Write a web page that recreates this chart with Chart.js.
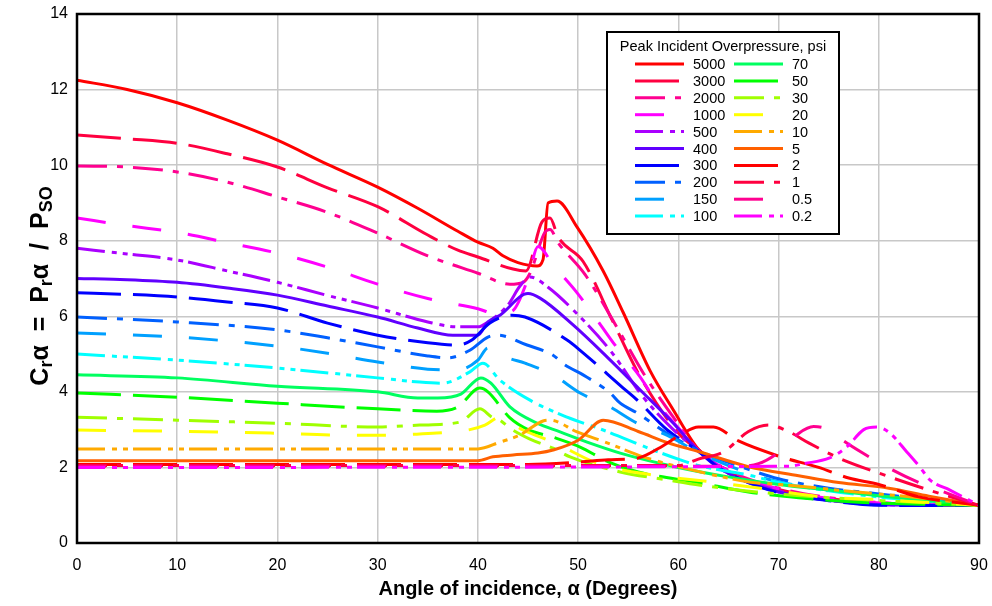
<!DOCTYPE html>
<html lang="en">
<head>
<meta charset="UTF-8">
<title>Reflection coefficient vs angle of incidence</title>
<style>
  body { margin: 0; background: #fff; }
  #wrap { width: 992px; height: 606px; }
</style>
</head>
<body>
<div id="wrap"><canvas id="chart" width="992" height="606"></canvas></div>
<script src="https://cdn.jsdelivr.net/npm/chart.js@4"></script>
<script>
// peak incident overpressure (psi), one curve each
const pressures = ['5000', '3000', '2000', '1000', '500', '400', '300', '200', '150', '100',
                   '70', '50', '30', '20', '10', '5', '2', '1', '0.5', '0.2'];

// [angle (deg), Cr alpha]
const s5000 = [[0,12.25],[5,12.0],[10,11.65],[15,11.19],[20,10.66],[25,10.02],[30,9.42],[34,8.86],[38,8.25],[40,7.96],[41.5,7.8],[42.5,7.6],[44,7.42],[45.9,7.33],[46.5,7.5],[47,9.0],[47.9,9.05],[49.9,8.36],[52.5,7.2],[54.5,6.1],[57.2,4.55],[59.5,3.52],[62,2.48],[65,1.85],[70,1.38],[75,1.15],[80,1.05],[85,1.0],[90,1.0]];
const s3000 = [[0,10.8],[5,10.7],[10,10.58],[15,10.3],[20,9.95],[25,9.4],[30,8.9],[35,8.15],[38,7.75],[40,7.57],[43.5,7.25],[44.8,7.2],[46.4,8.5],[47.2,8.6],[48,8.1],[50.5,7.45],[53.4,5.9],[56.2,4.4],[60.2,2.85],[62,2.47],[65,1.9],[70,1.42],[75,1.18],[80,1.06],[85,1.01],[90,1.0]];
const s2000 = [[0,9.98],[5,9.95],[10,9.82],[15,9.55],[20,9.16],[25,8.75],[30,8.2],[35,7.6],[40,7.14],[43.2,6.85],[44.5,6.9],[45.2,7.14],[46.7,8.23],[47.2,8.3],[48,7.95],[50.7,7.1],[54.2,5.56],[56.5,4.5],[59.5,3.33],[62,2.46],[65,1.92],[70,1.45],[75,1.2],[80,1.07],[85,1.02],[90,1.0]];
const s1000 = [[0,8.6],[5,8.4],[10,8.22],[15,7.95],[20,7.67],[25,7.3],[30,6.85],[35,6.47],[40,6.2],[42,6.05],[43.5,6.15],[45,7.0],[46,7.85],[47.5,7.36],[49.9,6.62],[51.9,5.9],[53.9,5.16],[56.2,4.39],[57.9,3.7],[60.2,2.99],[62,2.46],[65,1.9],[70,1.43],[75,1.18],[80,1.06],[85,1.01],[90,1.0]];
const s500 = [[0,7.8],[5,7.65],[10,7.49],[15,7.2],[20,6.9],[25,6.55],[30,6.22],[35,5.85],[38,5.72],[40,5.72],[41,5.85],[43,6.3],[44.2,6.8],[45.2,7.04],[47,6.77],[49.5,6.17],[53.2,5.1],[56.5,3.86],[59.5,3.0],[62,2.45],[65,1.85],[70,1.38],[75,1.13],[80,1.02],[85,1.0],[90,1.0]];
const s400 = [[0,7.0],[5,6.97],[10,6.9],[15,6.75],[20,6.56],[25,6.27],[30,5.98],[34,5.69],[37.5,5.5],[40,5.5],[41,5.85],[42.2,6.03],[45,6.6],[46.2,6.48],[49.5,5.77],[52.9,4.92],[56.2,4.05],[59.5,3.17],[62,2.44],[64,2.0],[67,1.6],[70,1.35],[75,1.13],[80,1.01],[85,1.0],[90,1.0]];
const s300 = [[0,6.62],[5,6.58],[10,6.51],[15,6.38],[20,6.22],[25,5.82],[30,5.5],[35,5.3],[38,5.24],[39.4,5.37],[41.2,5.82],[43.4,6.03],[44.7,5.98],[48.9,5.37],[50.2,5.1],[54.5,4.1],[55.9,3.78],[58.9,2.99],[62,2.43],[64,2.0],[67,1.6],[70,1.33],[75,1.12],[80,1.0],[85,0.99],[90,1.0]];
const s200 = [[0,5.98],[10,5.85],[20,5.64],[25,5.43],[30,5.19],[35,4.95],[37,4.9],[39.2,5.1],[41,5.45],[42,5.5],[44.9,5.24],[47.5,4.97],[48.7,4.71],[50.5,4.45],[53.2,3.97],[54.2,3.7],[55.9,3.44],[58.9,2.9],[62,2.45],[67,1.95],[70,1.7],[75,1.45],[80,1.3],[85,1.15],[90,1.0]];
const s150 = [[0,5.56],[10,5.45],[20,5.21],[25,5.02],[30,4.79],[35,4.6],[38,4.58],[40,4.84],[41,5.16],[43,4.9],[44.7,4.76],[47.5,4.45],[50.2,3.97],[53.2,3.6],[55.9,3.17],[58.9,2.85],[62,2.4],[67,1.85],[70,1.62],[75,1.4],[80,1.25],[85,1.12],[90,1.0]];
const s100 = [[0,5.0],[10,4.84],[20,4.63],[30,4.37],[34.2,4.26],[36.5,4.23],[39.2,4.53],[40.5,4.76],[42.2,4.31],[45.2,3.78],[48.9,3.33],[52.5,2.99],[57.5,2.46],[60.2,2.2],[62,2.05],[67,1.8],[70,1.6],[75,1.38],[80,1.22],[85,1.1],[90,1.0]];
const s70 = [[0,4.45],[10,4.37],[20,4.15],[30,4.0],[34,3.84],[36,3.84],[38.3,3.94],[40.3,4.37],[41.3,4.23],[43.2,3.6],[45.9,3.17],[48.2,2.94],[50.9,2.67],[54.2,2.38],[60,2.0],[65,1.75],[70,1.55],[75,1.4],[80,1.25],[85,1.12],[90,1.0]];
const s50 = [[0,3.97],[10,3.86],[20,3.7],[30,3.55],[35.9,3.49],[38,3.6],[40.2,4.1],[41,4.0],[43.2,3.31],[45,3.0],[47.5,2.8],[50.2,2.54],[53,2.15],[56,1.88],[62,1.6],[67,1.35],[72,1.2],[78,1.08],[85,1.02],[90,1.0]];
const s30 = [[0,3.33],[10,3.25],[20,3.17],[30,3.07],[34.2,3.12],[38.2,3.2],[40.2,3.55],[41.4,3.33],[42.2,3.25],[43.2,3.04],[45.2,2.75],[47.5,2.51],[49.2,2.28],[54.2,1.88],[58.9,1.67],[62.2,1.53],[67.8,1.35],[75,1.2],[82,1.1],[90,1.0]];
const s20 = [[0,2.99],[14,2.94],[19.3,2.91],[25.2,2.86],[30,2.85],[33.9,2.88],[35.9,2.91],[39.2,3.0],[40.7,3.12],[42.2,3.33],[44.5,2.99],[47.5,2.67],[52,2.1],[56.2,1.85],[63.5,1.61],[67.8,1.46],[74.4,1.22],[80,1.15],[85,1.07],[90,1.0]];
const s10 = [[0,2.49],[40,2.49],[42.2,2.67],[44.2,2.86],[46.5,3.23],[47.2,3.25],[49.9,2.94],[52.9,2.65],[56.5,2.28],[62.2,1.88],[67.2,1.61],[71,1.53],[77.8,1.35],[84,1.2],[90,1.0]];
const s5 = [[0,2.18],[40,2.18],[41.5,2.28],[43.5,2.33],[46,2.38],[47.5,2.46],[50,2.72],[52.5,3.25],[56,2.95],[59,2.65],[62,2.42],[67,2.02],[72,1.78],[76,1.6],[81,1.45],[85,1.24],[90,1.0]];
const s2 = [[0,2.08],[45,2.08],[50,2.14],[53,2.2],[56,2.25],[58,2.5],[60.2,2.86],[62,3.07],[63.5,3.07],[66,2.7],[70,2.3],[74,2.0],[77,1.72],[80,1.55],[84,1.22],[90,1.0]];
const s1 = [[0,2.05],[60,2.05],[62,2.22],[64.5,2.41],[67,2.95],[69,3.12],[71,2.95],[73,2.65],[76,2.25],[80,1.85],[85,1.4],[90,1.0]];
const s05 = [[0,2.03],[66,2.03],[68,2.1],[70,2.4],[72,2.9],[73.5,3.08],[75,3.0],[76.5,2.7],[78.4,2.38],[81.4,1.93],[84,1.6],[87,1.3],[90,1.0]];
const s02 = [[0,2.0],[71,2.03],[72.5,2.1],[75.1,2.25],[76.8,2.54],[78.5,3.0],[79.8,3.07],[81.1,2.91],[82.8,2.41],[84.1,2.01],[85.1,1.67],[87.1,1.4],[90,1.0]];

const series = [s5000, s3000, s2000, s1000, s500, s400, s300, s200, s150, s100,
                s70, s50, s30, s20, s10, s5, s2, s1, s05, s02];

const xTicks = [0, 10, 20, 30, 40, 50, 60, 70, 80, 90];
const yTicks = [0, 2, 4, 6, 8, 10, 12, 14];

// styles
const colors = ['#ff0000', '#ff0040', '#ff0090', '#ff00ff', '#aa00ff', '#6000ff', '#0000ff', '#0060ff', '#00a0ff', '#00ffff',
                '#00ff60', '#00ff00', '#a0ff00', '#ffff00', '#ffaa00', '#ff6000', '#ff0000', '#ff0040', '#ff0090', '#ff00ff'];
const dashCycle = [[], [44, 12], [30, 10, 6, 10], [29, 27], [28, 7, 5, 6, 5, 5]];

const FONT = '"Liberation Sans", Arial, sans-serif';

const datasets = series.map((pts, i) => ({
    label: pressures[i],
    data: pts.map(p => ({ x: p[0], y: p[1] })),
    borderColor: colors[i],
    borderWidth: 3,
    borderDash: dashCycle[i % 5],
    pointRadius: 0,
    fill: false,
    tension: 0,
    cubicInterpolationMode: 'monotone',
    order: series.length - i
}));

// black frame round the plot
const framePlugin = {
    id: 'frame',
    afterDatasetsDraw(chart) {
        const { ctx, chartArea: a } = chart;
        ctx.save();
        ctx.strokeStyle = '#000';
        ctx.lineWidth = 2.5;
        ctx.strokeRect(a.left, a.top, a.right - a.left, a.bottom - a.top);
        ctx.restore();
    }
};

// axis titles (y one has subscripts)
const titlesPlugin = {
    id: 'titles',
    afterDraw(chart) {
        const ctx = chart.ctx;
        ctx.save();
        ctx.fillStyle = '#000';
        ctx.font = 'bold 20px ' + FONT;
        ctx.textAlign = 'center';
        ctx.textBaseline = 'middle';
        ctx.fillText('Angle of incidence, \u03b1 (Degrees)', 528, 589);

        const parts = [['C', 0], ['r', 1], ['\u03b1  =  P', 0], ['r', 1], ['\u03b1  /  P', 0], ['SO', 1]];
        const big = 'bold 25px ' + FONT, small = 'bold 18px ' + FONT;
        let total = 0;
        parts.forEach(p => { ctx.font = p[1] ? small : big; total += ctx.measureText(p[0]).width; });
        ctx.translate(39, 286);
        ctx.rotate(-Math.PI / 2);
        ctx.textAlign = 'left';
        ctx.textBaseline = 'alphabetic';
        let x = -total / 2;
        parts.forEach(p => {
            ctx.font = p[1] ? small : big;
            ctx.fillText(p[0], x, p[1] ? 13 : 9);
            x += ctx.measureText(p[0]).width;
        });
        ctx.restore();
    }
};

// boxed two-column legend inside the plot
const legendPlugin = {
    id: 'boxLegend',
    afterDraw(chart) {
        const ctx = chart.ctx;
        const bx = 607, by = 32, bw = 232, bh = 202;
        ctx.save();
        ctx.fillStyle = '#fff';
        ctx.fillRect(bx, by, bw, bh);
        ctx.strokeStyle = '#000';
        ctx.lineWidth = 2;
        ctx.strokeRect(bx, by, bw, bh);
        ctx.fillStyle = '#000';
        ctx.font = '14.5px ' + FONT;
        ctx.textAlign = 'center';
        ctx.textBaseline = 'middle';
        ctx.fillText('Peak Incident Overpressure, psi', bx + bw / 2, 47);
        ctx.textAlign = 'left';
        chart.data.datasets.forEach((ds, i) => {
            const col = Math.floor(i / 10), row = i % 10;
            const y = 64 + row * 16.9;
            const x0 = 635 + col * 99;
            ctx.strokeStyle = ds.borderColor;
            ctx.lineWidth = 3;
            ctx.setLineDash(ds.borderDash);
            ctx.beginPath();
            ctx.moveTo(x0, y);
            ctx.lineTo(x0 + 49, y);
            ctx.stroke();
            ctx.setLineDash([]);
            ctx.fillStyle = '#000';
            ctx.fillText(ds.label, x0 + 58, y + 1);
        });
        ctx.restore();
    }
};

new Chart(document.getElementById('chart'), {
    type: 'line',
    data: { datasets },
    options: {
        responsive: false,
        animation: false,
        layout: { padding: { top: 14, right: 13, left: 0, bottom: 0 } },
        plugins: { legend: { display: false }, tooltip: { enabled: false } },
        scales: {
            x: {
                type: 'linear', min: 0, max: 90,
                afterBuildTicks: s => { s.ticks = xTicks.map(v => ({ value: v })); },
                afterFit: s => { s.height = 63; s.paddingLeft = 0; s.paddingRight = 0; },
                ticks: { color: '#000', padding: 13, maxRotation: 0, font: { family: FONT, size: 16 } },
                grid: { color: '#c8c8c8', lineWidth: 1.5, drawTicks: false },
                border: { display: false }
            },
            y: {
                min: 0, max: 14,
                afterBuildTicks: s => { s.ticks = yTicks.map(v => ({ value: v })); },
                afterFit: s => { s.width = 77; s.paddingTop = 0; s.paddingBottom = 0; },
                ticks: { color: '#000', padding: 9, font: { family: FONT, size: 16 } },
                grid: { color: '#c8c8c8', lineWidth: 1.5, drawTicks: false },
                border: { display: false }
            }
        }
    },
    plugins: [framePlugin, titlesPlugin, legendPlugin]
});
</script>
</body>
</html>
